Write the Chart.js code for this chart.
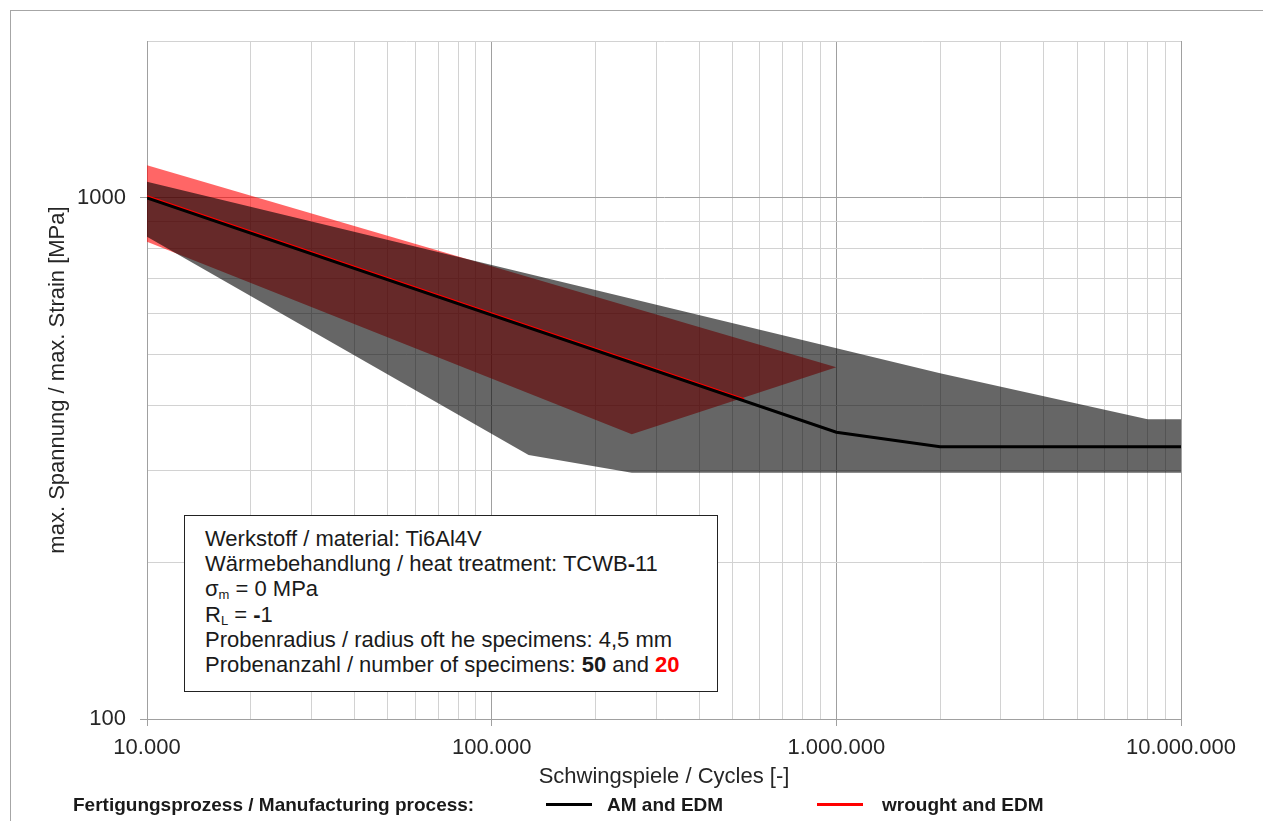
<!DOCTYPE html>
<html>
<head>
<meta charset="utf-8">
<script src="https://cdn.jsdelivr.net/npm/chart.js@4.4.1/dist/chart.umd.min.js"></script>
<style>
  html, body { margin: 0; padding: 0; background: #fff; overflow: hidden; }
  body { width: 1263px; height: 821px; position: relative; font-family: "Liberation Sans", Arial, sans-serif; }
  #frame { position: absolute; left: 10px; top: 10px; width: 1400px; height: 1000px; border-left: 1px solid #a6a6a6; border-top: 1px solid #a6a6a6; }
  #c { position: absolute; left: 0; top: 0; }
  #info { position: absolute; left: 184px; top: 515px; width: 534px; height: 177px; box-sizing: border-box;
          border: 1px solid #222; background: #fff; padding: 10px 0 0 20px; font-size: 22px; line-height: 25.2px; color: #1a1a1a; }
  #info sub { font-size: 13px; vertical-align: -3px; line-height: 0; }
  .leg { position: absolute; top: 793px; height: 24px; line-height: 24px; font-size: 19px; font-weight: bold; color: #1a1a1a; white-space: nowrap; }
  .sample { position: absolute; top: 803px; width: 46px; height: 0; border-top: 3px solid #000; }
</style>
</head>
<body>
<div id="frame"></div>
<canvas id="c" width="1263" height="821"></canvas>
<div id="info">
  <div>Werkstoff / material: Ti6Al4V</div>
  <div>Wärmebehandlung / heat treatment: TCWB<b>-</b>11</div>
  <div>σ<sub>m</sub> = 0 MPa</div>
  <div>R<sub>L</sub> = <b>-</b>1</div>
  <div>Probenradius / radius oft he specimens: 4,5 mm</div>
  <div>Probenanzahl / number of specimens: <b>50</b> and <b style="color:#ff0000">20</b></div>
</div>
<div class="leg" style="left:73px">Fertigungsprozess / Manufacturing process:</div>
<div class="sample" style="left:546px"></div>
<div class="leg" style="left:607px">AM and EDM</div>
<div class="sample" style="left:817px; border-top-color:#ff0000"></div>
<div class="leg" style="left:882px">wrought and EDM</div>
<script>
// ---- data ----
const amCycles = [1e4, 1e6, 2e6, 1e7];
const amStress = [1000, 355, 333, 333];

const wroughtCycles = [1e4, 5.4e5];
const wroughtStress = [1007, 411];

// scatter band polygons (upper edge left->right, then lower edge right->left)
const amBandCycles = [1e4, 2e6, 8e6, 1e7, 1e7, 2.55e5, 1.28e5, 1e4];
const amBandStress = [1074, 461, 376, 376, 297, 297, 321, 842];

const wroughtBandCycles = [1e4, 1e6, 2.55e5, 1e4];
const wroughtBandStress = [1155, 473, 352, 824];

// axes
const xLabelValues = [1e4, 1e5, 1e6, 1e7];
const xLabels = ['10.000', '100.000', '1.000.000', '10.000.000'];
const xGridValues = [1e4,2e4,3e4,4e4,5e4,6e4,7e4,8e4,9e4,1e5,2e5,3e5,4e5,5e5,6e5,7e5,8e5,9e5,1e6,2e6,3e6,4e6,5e6,6e6,7e6,8e6,9e6,1e7];
const yLabelValues = [100, 1000];
const yLabels = ['100', '1000'];
const yGridValues = [100,200,300,400,500,600,700,800,900,1000,2000];

const toPts = (xs, ys) => xs.map((x, i) => ({x: x, y: ys[i]}));

const MAJOR = '#a0a0a0', MINOR = '#d2d2d2';
const font = {family: '"Liberation Sans", Arial, sans-serif', size: 22};

new Chart(document.getElementById('c'), {
  type: 'line',
  data: {
    datasets: [
      { label: 'AM and EDM', data: toPts(amCycles, amStress), borderColor: '#000', borderWidth: 3,
        pointRadius: 0, fill: false, tension: 0 },
      { label: 'wrought and EDM', data: toPts(wroughtCycles, wroughtStress), borderColor: '#ff0000', borderWidth: 2,
        pointRadius: 0, fill: false, tension: 0 },
      { label: 'AM band', data: toPts(amBandCycles, amBandStress), borderWidth: 0, borderColor: 'rgba(0,0,0,0)',
        backgroundColor: 'rgba(0,0,0,0.6)', pointRadius: 0, fill: 'shape', tension: 0 },
      { label: 'wrought band', data: toPts(wroughtBandCycles, wroughtBandStress), borderWidth: 0, borderColor: 'rgba(0,0,0,0)',
        backgroundColor: 'rgba(255,0,0,0.6)', pointRadius: 0, fill: 'shape', tension: 0 }
    ]
  },
  options: {
    responsive: false,
    animation: false,
    devicePixelRatio: 1,
    layout: { padding: { top: 41, right: 82, bottom: 0, left: 0 } },
    plugins: { legend: { display: false }, tooltip: { enabled: false } },
    scales: {
      x: {
        type: 'logarithmic', min: 1e4, max: 1e7,
        afterBuildTicks: s => { s.ticks = xGridValues.map(v => ({value: v})); },
        afterFit: s => { s.height = 102; },
        ticks: {
          autoSkip: false, maxRotation: 0, minRotation: 0, padding: 9, color: '#262626', font: font,
          callback: v => { const i = xLabelValues.indexOf(v); return i >= 0 ? xLabels[i] : ''; }
        },
        grid: {
          color: c => xLabelValues.includes(c.tick.value) ? MAJOR : MINOR,
          tickColor: c => xLabelValues.includes(c.tick.value) ? MAJOR : 'rgba(0,0,0,0)',
          tickLength: 7, lineWidth: 1
        },
        border: { display: true, color: MAJOR, width: 1 },
        title: { display: true, text: 'Schwingspiele / Cycles [-]', color: '#262626', font: font, padding: { top: 0, bottom: 31 } }
      },
      y: {
        type: 'logarithmic', min: 100, max: 2000,
        afterBuildTicks: s => { s.ticks = yGridValues.map(v => ({value: v})); },
        afterFit: s => { s.width = 147; },
        ticks: {
          autoSkip: false, padding: 14, color: '#262626', font: font,
          callback: v => { const i = yLabelValues.indexOf(v); return i >= 0 ? yLabels[i] : ''; }
        },
        grid: {
          color: c => yLabelValues.includes(c.tick.value) ? MAJOR : MINOR,
          tickColor: c => yLabelValues.includes(c.tick.value) ? MAJOR : 'rgba(0,0,0,0)',
          tickLength: 7, lineWidth: 1
        },
        border: { display: true, color: MAJOR, width: 1 },
        title: { display: true, text: 'max. Spannung / max. Strain [MPa]', color: '#262626', font: font, padding: { top: 45, bottom: 0 } }
      }
    }
  }
});
</script>
</body>
</html>
